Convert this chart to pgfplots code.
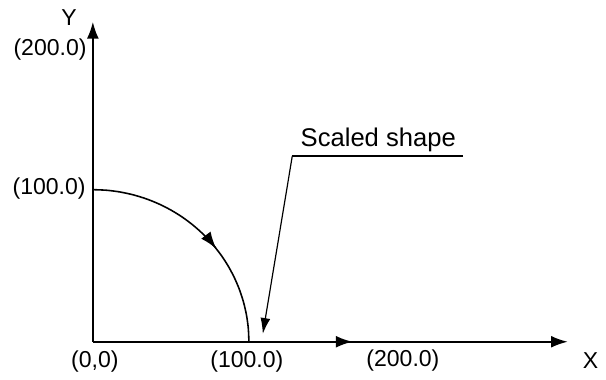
\documentclass[border=0pt]{standalone}
\usepackage{pgfplots}
\pgfplotsset{compat=1.18}
\usetikzlibrary{arrows.meta}
\usepackage{fontspec}
\setmainfont{Liberation Sans}
\begin{document}
\fontsize{11.7}{14}\selectfont
\begin{tikzpicture}[font=\fontsize{11.7}{14}\selectfont]
\begin{axis}[
  scale only axis, width=303bp, height=191bp,
  xmin=-59.5, xmax=324.1, ymin=-23.4, ymax=224.7,
  hide axis, clip=false,
]
\tikzset{ar/.style={-{Latex[length=8.5bp,width=6bp]}}}
% axes
\addplot[black, line width=1bp, ar] coordinates {(0,0) (0,210.4)};
\addplot[black, line width=1bp, ar] coordinates {(0,0) (166.5,0)};
\addplot[black, line width=1bp, ar] coordinates {(160,0) (304.4,0)};
% scaled shape (quarter arc)
\addplot[black, line width=0.8bp, smooth, ar] coordinates {
 (0,100) (8.72,99.62) (17.36,98.48) (25.88,96.59) (34.20,93.97)
 (42.26,90.63) (50.00,86.60) (57.36,81.92) (64.28,76.60) (70.71,70.71) (76.60,64.28) (79.0,61.3)};
\addplot[black, line width=0.8bp, smooth] coordinates {
 (76.60,64.28) (81.92,57.36) (86.60,50.00) (90.63,42.26) (93.97,34.20)
 (96.59,25.88) (98.48,17.36) (99.62,8.72) (100,0)};
% leader
\addplot[black, line width=0.6bp] coordinates {(237.3,122.1) (127.8,122.1)};
\addplot[black, line width=0.6bp, -{Latex[length=8bp,width=5bp]}] coordinates {(127.8,122.1) (108.9,5.2)};
% labels
\node[anchor=base, font=\fontsize{13}{15}\selectfont] at (axis cs:182.9,128.6) {Scaled shape};
\node[anchor=center, font=\fontsize{11.7}{14}\selectfont] at (axis cs:-15.2,213) {Y};
\node[anchor=east, inner sep=0pt, font=\fontsize{11.7}{14}\selectfont] at (axis cs:-3.8,191.9) {(200.0)};
\node[anchor=east, inner sep=0pt, font=\fontsize{11.7}{14}\selectfont] at (axis cs:-4.4,100.8) {(100.0)};
\node[anchor=center, font=\fontsize{11.7}{14}\selectfont] at (axis cs:1.3,-13) {(0,0)};
\node[anchor=center, font=\fontsize{11.7}{14}\selectfont] at (axis cs:98.7,-13) {(100.0)};
\node[anchor=center, font=\fontsize{11.7}{14}\selectfont] at (axis cs:198.7,-12.3) {(200.0)};
\node[anchor=center, font=\fontsize{11.7}{14}\selectfont] at (axis cs:319,-12.3) {X};
\end{axis}
\path (current axis.south west) rectangle (current axis.north east);
\end{tikzpicture}
\end{document}
